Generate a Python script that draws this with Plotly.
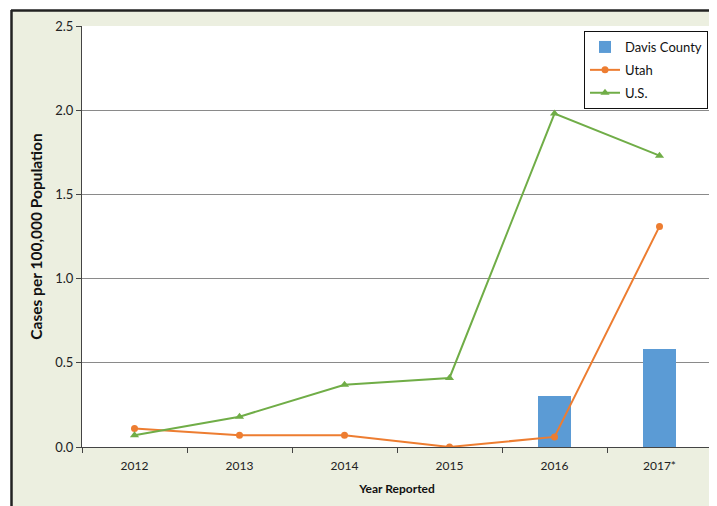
import plotly.graph_objects as go

years = ["2012", "2013", "2014", "2015", "2016", "2017*"]
davis = [None, None, None, None, 0.30, 0.58]
utah = [0.11, 0.07, 0.07, 0.0, 0.06, 1.31]
us = [0.07, 0.18, 0.37, 0.41, 1.98, 1.73]
y_ticks = [0.0, 0.5, 1.0, 1.5, 2.0, 2.5]
y_tick_labels = ["0.0", "0.5", "1.0", "1.5", "2.0", "2.5"]

FONT = "Lato"
OFF = 8  # page body margin
W, H = 717 - OFF, 506 - OFF
L, R, T, B = 82 - OFF, 5, 26 - OFF, 59
pw, ph = W - L - R, H - T - B

def px_x(p):
    return (p - OFF - L) / pw

def px_y(p):
    return (H - B - (p - OFF)) / ph

fig = go.Figure()
fig.add_trace(go.Bar(x=years, y=davis, name="Davis County", width=0.32,
                     legendgroup="a",
                     marker=dict(color="#5B9BD5", line=dict(width=0))))
fig.add_trace(go.Scatter(x=years, y=utah, name="Utah", mode="lines+markers",
                         legendgroup="b",
                         line=dict(color="#ED7D31", width=2),
                         marker=dict(symbol="circle", size=7, color="#ED7D31")))
fig.add_trace(go.Scatter(x=years, y=us, name="U.S.", mode="lines+markers",
                         legendgroup="c",
                         line=dict(color="#70AD47", width=2),
                         marker=dict(symbol="triangle-up", size=8, color="#70AD47")))

fig.update_layout(
    width=W, height=H,
    margin=dict(l=L, r=R, t=T, b=B),
    paper_bgcolor="#ECEFE0",
    plot_bgcolor="white",
    font=dict(family=FONT, size=12, color="#222"),
    showlegend=True,
    legend=dict(x=px_x(708), y=px_y(31), xanchor="right", yanchor="top",
                bgcolor="white", bordercolor="#111", borderwidth=1,
                font=dict(family=FONT, size=13, color="#111"),
                traceorder="grouped", tracegroupgap=3),
    bargap=0,
    shapes=[
        dict(type="rect", xref="paper", yref="paper", layer="below",
             x0=px_x(0), x1=px_x(11), y0=px_y(600), y1=px_y(0),
             fillcolor="white", line=dict(width=0)),
        dict(type="rect", xref="paper", yref="paper", layer="below",
             x0=px_x(0), x1=px_x(800), y0=px_y(10), y1=px_y(0),
             fillcolor="white", line=dict(width=0)),
        dict(type="line", xref="paper", yref="paper",
             x0=px_x(11), x1=px_x(800), y0=px_y(10.5), y1=px_y(10.5),
             line=dict(color="#222", width=2.5)),
        dict(type="line", xref="paper", yref="paper",
             x0=px_x(11.5), x1=px_x(11.5), y0=px_y(10), y1=px_y(600),
             line=dict(color="#222", width=2.5)),
    ],
)

fig.update_xaxes(
    type="category", range=[-0.5, 5.5],
    showline=True, linecolor="#444", linewidth=1,
    ticks="outside", ticklen=5, tickcolor="#444", tickson="boundaries",
    ticklabelstandoff=8,
    showgrid=False,
    tickfont=dict(family=FONT, size=12, color="#222"),
    title=dict(text="<b>Year Reported</b>", font=dict(family=FONT, size=12, color="#111"), standoff=12),
)
fig.update_yaxes(
    range=[0, 2.5], tickvals=y_ticks, ticktext=y_tick_labels,
    showline=True, linecolor="#444", linewidth=1,
    ticks="outside", ticklen=5, tickcolor="#444",
    showgrid=True, gridcolor="#8A8A8A", gridwidth=1,
    zeroline=False,
    tickfont=dict(family=FONT, size=13, color="#222"),
    title=dict(text="<b>Cases per 100,000 Population</b>", font=dict(family=FONT, size=15.5, color="#111"), standoff=8),
)

fig.write_html("out.html")
